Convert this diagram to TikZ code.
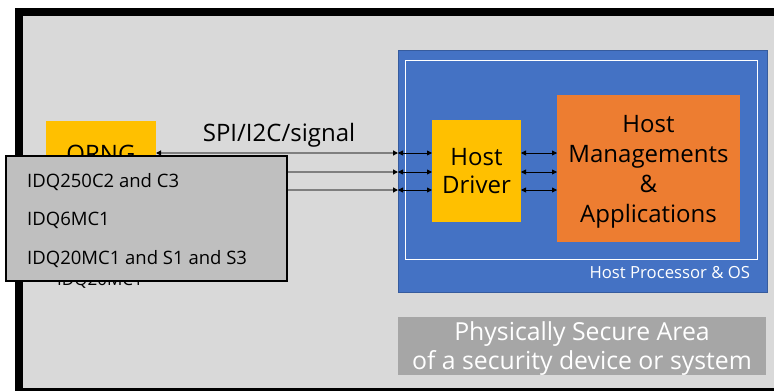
\documentclass[tikz,border=0pt]{standalone}
\usepackage{fontspec}
\setmainfont{Open Sans}
\usetikzlibrary{arrows.meta}
\definecolor{areagray}{HTML}{D9D9D9}
\definecolor{listgray}{HTML}{BFBFBF}
\definecolor{securegray}{HTML}{A6A6A6}
\definecolor{linegray}{HTML}{7F7F7F}
\definecolor{chipyellow}{HTML}{FFC000}
\definecolor{hostblue}{HTML}{4472C4}
\definecolor{apporange}{HTML}{ED7D31}
\begin{document}
\begin{tikzpicture}
[
    x=1pt, y=-1pt,
    box/.style={inner sep=0pt, outer sep=0pt, align=center},
    bus/.style={draw=linegray, line width=1.2pt, arrows={-{Triangle[length=5pt, width=5pt, color=black]}}},
    busboth/.style={draw=linegray, line width=1.2pt, arrows={{Triangle[length=5pt, width=5pt, color=black]}-{Triangle[length=5pt, width=5pt, color=black]}}},
    link/.style={draw=black, line width=0.8pt, arrows={{Triangle[length=5pt, width=5pt]}-{Triangle[length=5pt, width=5pt]}}},
    item/.style={inner sep=0pt, anchor=west, font=\fontsize{18.5}{22}\selectfont}
]
    \clip (0,0) rectangle (774,391);
    \fill[white] (0,0) rectangle (774,391);
    % secure area frame
    \draw[line width=8pt, fill=areagray] (19,12) rectangle (800,392);

    % qrng side
    \node [box, fill=chipyellow, minimum width=110pt, minimum height=70pt,
        font=\fontsize{24}{28}\selectfont] (qrng) at (101,156) {QRNG};
    \node [box, font=\fontsize{17}{20}\selectfont] (qrngname) at (100,281) {IDQ20MC1};

    % host side
    \node [box, fill=hostblue, draw=hostblue!80!black, minimum width=369pt,
        minimum height=242pt] (proc) at (582.5,171) {};
    \draw [white, line width=0.8pt] (405,60) rectangle (757,259);
    \node [box, anchor=east, text=white, font=\fontsize{16.7}{20}\selectfont]
        (proclabel) at (750,273) {Host Processor \& OS};
    \node [box, fill=chipyellow, minimum width=89pt, minimum height=102pt,
        font=\fontsize{24}{28}\selectfont] (driver) at (476.5,171) {Host\\Driver};
    \node [box, fill=apporange, minimum width=183pt, minimum height=147pt,
        font=\fontsize{24}{30}\selectfont] (apps) at (648.5,168.5) {};
    \node [box, font=\fontsize{24}{30}\selectfont] (appstext) at (648.5,172)
        {Host\\Managements\\\&\\Applications};
    \node [box, fill=securegray, text=white, minimum width=368pt, minimum height=58pt] (secure) at (582,346) {};
    \node [box, text=white, font=\fontsize{24.8}{29}\selectfont] (securetext) at (582,349)
        {Physically Secure Area\\of a security device or system};

    % signal lines
    \foreach \y [count=\i] in {153,172,190} {
        \coordinate (in\i) at (proc.west |- 0,\y);
        \draw [link] (in\i) -- (driver.west |- in\i);
        \draw [link] (driver.east |- in\i) -- (apps.west |- in\i);
    }
    \draw [busboth] (qrng.east |- in1) -- (in1);
    \draw [bus] (qrng.east |- in2) -- (in2);
    \draw [bus] (qrng.east |- in3) -- (in3);
    \node [box, font=\fontsize{24}{28}\selectfont] (buslabel) at (279,135) {SPI/I2C/signal};

    % model list
    \node [box, draw=black, line width=1.5pt, fill=listgray, minimum width=281pt,
        minimum height=125pt] (models) at (146.5,218.5) {};
    \node [item] (m1) at (27,182) {IDQ250C2 and C3};
    \node [item] (m2) at (27,220) {IDQ6MC1};
    \node [item] (m3) at (27,259) {IDQ20MC1 and S1 and S3};
\end{tikzpicture}
\end{document}
